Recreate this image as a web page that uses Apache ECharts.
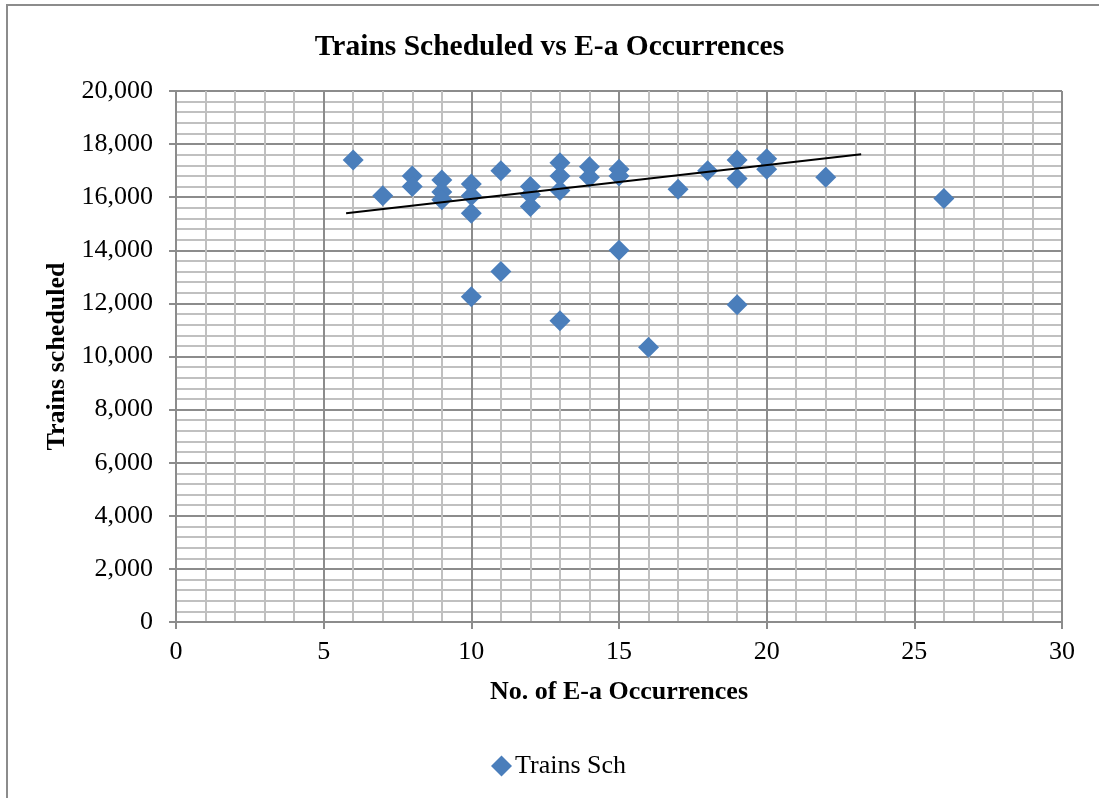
<!DOCTYPE html>
<html>
<head>
<meta charset="utf-8">
<script src="https://cdn.jsdelivr.net/npm/echarts@6/dist/echarts.min.js"></script>
<style>
  html, body { margin: 0; padding: 0; background: #fff; }
  #chart { width: 1099px; height: 798px; }
</style>
</head>
<body>
<div id="chart"></div>
<script>
// Number of E-a occurrences per period and the trains scheduled in that period
const occurrences = [6, 7, 8, 8, 9, 9, 9, 10, 10, 10, 10, 11, 11, 12, 12, 12,
  13, 13, 13, 13, 14, 14, 15, 15, 15, 16, 17, 18, 19, 19, 19, 20, 20, 22, 26];
const trainsScheduled = [17400, 16050, 16800, 16400, 16650, 16200, 15900,
  16500, 16050, 15400, 12250, 17000, 13200, 16400, 16100, 15650,
  17300, 16800, 16250, 11350, 17150, 16750, 17050, 16800, 14000,
  10350, 16300, 17000, 17400, 16700, 11950, 17450, 17050, 16750, 15950];

// Linear trendline end points
const trendX = [5.76, 23.2];
const trendY = [15395, 17615];

const seriesName = 'Trains Sch';
const serif = '"Liberation Serif", "Times New Roman", serif';

const points = occurrences.map((x, i) => [x, trainsScheduled[i]]);
const trend = trendX.map((x, i) => [x, trendY[i]]);

const chart = echarts.init(document.getElementById('chart'));
chart.setOption({
  animation: false,
  backgroundColor: '#ffffff',
  title: {
    text: 'Trains Scheduled vs E-a Occurrences',
    left: 'center',
    top: 27,
    textStyle: { fontFamily: serif, fontWeight: 'bold', fontSize: 29.5, color: '#000' }
  },
  graphic: [{
    type: 'rect',
    shape: { x: 7, y: 5, width: 1200, height: 1000 },
    style: { fill: 'none', stroke: '#8c8c8c', lineWidth: 2 },
    silent: true
  }],
  legend: {
    data: [{ name: seriesName, icon: 'diamond' }],
    left: 486,
    top: 748,
    itemWidth: 21,
    itemHeight: 21,
    itemGap: 3,
    textStyle: { fontFamily: serif, fontSize: 26, color: '#000', padding: [0, 0, 0, -2] }
  },
  grid: { left: 176, right: 37, top: 91, bottom: 176, containLabel: false },
  xAxis: {
    type: 'value',
    min: 0, max: 30, interval: 5,
    name: 'No. of E-a Occurrences',
    nameLocation: 'middle',
    nameGap: 57,
    nameTextStyle: { fontFamily: serif, fontWeight: 'bold', fontSize: 26, color: '#000' },
    axisLine: { show: true, lineStyle: { color: '#8c8c8c', width: 2 } },
    axisTick: { show: true, length: 7, lineStyle: { color: '#8c8c8c', width: 2 } },
    axisLabel: { fontFamily: serif, fontSize: 26, color: '#000', margin: 17 },
    splitLine: { show: true, lineStyle: { color: '#8c8c8c', width: 2 } },
    minorTick: { show: false, splitNumber: 5 },
    minorSplitLine: { show: true, lineStyle: { color: '#c0c0c0', width: 2 } }
  },
  yAxis: {
    type: 'value',
    min: 0, max: 20000, interval: 2000,
    name: 'Trains scheduled',
    nameLocation: 'middle',
    nameGap: 105,
    nameRotate: 90,
    nameTextStyle: { fontFamily: serif, fontWeight: 'bold', fontSize: 26, color: '#000' },
    axisLine: { show: true, lineStyle: { color: '#8c8c8c', width: 2 } },
    axisTick: { show: true, length: 7, lineStyle: { color: '#8c8c8c', width: 2 } },
    axisLabel: {
      fontFamily: serif, fontSize: 26, color: '#000', margin: 23,
      formatter: v => v.toLocaleString('en-US')
    },
    splitLine: { show: true, lineStyle: { color: '#8c8c8c', width: 2 } },
    minorTick: { show: false, splitNumber: 5 },
    minorSplitLine: { show: true, lineStyle: { color: '#c0c0c0', width: 2 } }
  },
  series: [
    {
      name: seriesName,
      type: 'scatter',
      symbol: 'diamond',
      symbolSize: 21,
      itemStyle: { color: '#4a7ebb', opacity: 1 },
      data: points,
      z: 3
    },
    {
      name: 'trend',
      type: 'line',
      data: trend,
      symbol: 'none',
      lineStyle: { color: '#000', width: 2 },
      z: 4,
      silent: true
    }
  ]
});
</script>
</body>
</html>
